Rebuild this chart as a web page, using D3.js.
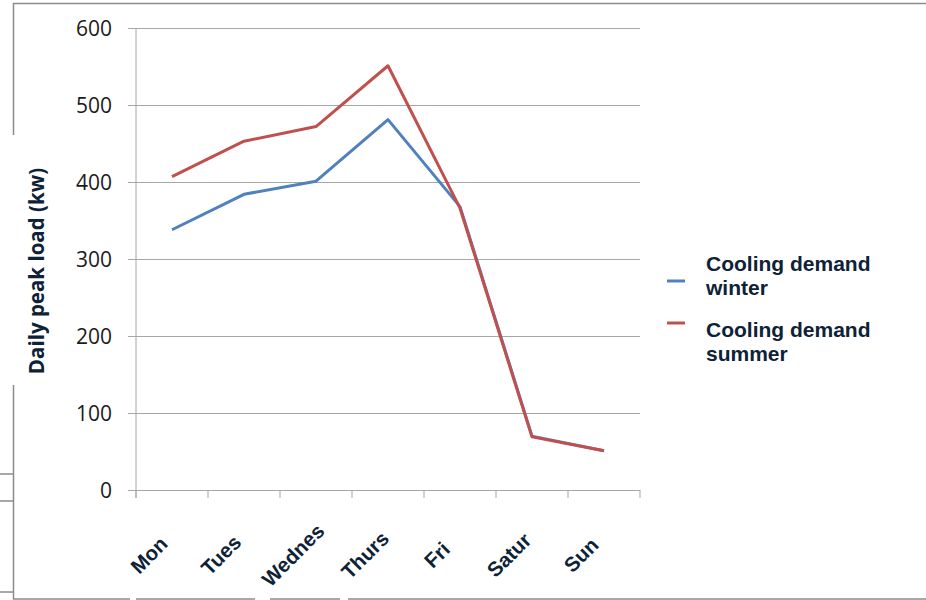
<!DOCTYPE html>
<html lang="en">
    <head>
        <meta charset="utf-8">
        <title>Daily peak load</title>
        <script src="https://d3js.org/d3.v7.min.js"></script>
        <style type="text/css">
            body { margin: 0; background: #fff; }
        </style>
    </head>
    <body>
        <script>
            // data
            var days = ["Mon", "Tues", "Wednes", "Thurs", "Fri", "Satur", "Sun"];
            var winter = [338, 384, 401, 481, 368, 70, 51];
            var summer = [407, 453, 472, 551, 366, 69, 51];
            var yTicks = [0, 100, 200, 300, 400, 500, 600];
            var seriesNames = ["Cooling demand winter", "Cooling demand summer"];
            var seriesColors = ["#4f81bd", "#c0504d"];

            // configuration
            var outerWidth = 926;
            var outerHeight = 600;
            var margin = { left: 136, top: 28, right: 286, bottom: 110 };
            var innerWidth = outerWidth - margin.left - margin.right;
            var innerHeight = outerHeight - margin.top - margin.bottom;
            var labelColor = "#0d2236";
            var gridColor = "#a6a6a6";

            var svg = d3.select("body")
                .append("svg")
                .attr("width", outerWidth)
                .attr("height", outerHeight);

            // frame remnants around the slide
            var frame = svg.append("g")
                .attr("stroke", "#8c8c8c")
                .attr("stroke-width", 1.5)
                .attr("fill", "none");
            frame.append("path").attr("d", "M13.5,135V3.5H926");
            frame.append("path").attr("d", "M13.5,385V599H130M136,599H255M270,599H340M348,599H926");
            frame.append("path").attr("d", "M0,474H13.5M0,501H13.5M0,592H13.5");

            var g = svg.append("g")
                .attr("transform", "translate(" + margin.left + "," + margin.top + ")");

            var xScale = d3.scaleBand().domain(days).range([0, innerWidth]).paddingInner(0).paddingOuter(0);
            var yScale = d3.scaleLinear().domain([0, 600]).range([innerHeight, 0]);

            // gridlines + y axis
            var yAxis = d3.axisLeft(yScale)
                .tickValues(yTicks)
                .tickSize(-innerWidth - 8)
                .tickPadding(16)
                .tickFormat(d3.format("d"));
            var yG = g.append("g")
                .attr("transform", "translate(" + (-8) + ",0)")
                .call(yAxis);
            yG.select(".domain").remove();
            yG.selectAll(".tick line").attr("stroke", gridColor).attr("x1", 0).attr("x2", innerWidth + 8);
            yG.selectAll(".tick text")
                .attr("x", -16)
                .attr("dy", "0.36em")
                .style("font-family", "'Open Sans', sans-serif")
                .style("font-size", "21px")
                .attr("fill", "#1a1a1a");

            // vertical axis line
            g.append("line")
                .attr("x1", 0).attr("x2", 0)
                .attr("y1", 0).attr("y2", innerHeight + 8)
                .attr("stroke", gridColor);

            // category boundary ticks
            var boundaries = days.map(function (d) { return xScale(d); }).concat([innerWidth]);
            g.selectAll(".xtick").data(boundaries).enter().append("line")
                .attr("class", "xtick")
                .attr("x1", function (d) { return d; })
                .attr("x2", function (d) { return d; })
                .attr("y1", innerHeight)
                .attr("y2", innerHeight + 8)
                .attr("stroke", gridColor);

            // category labels
            g.selectAll(".xlabel").data(days).enter().append("text")
                .attr("class", "xlabel")
                .attr("transform", function (d) {
                    var x = xScale(d) + xScale.bandwidth() / 2 - 23;
                    return "translate(" + x + "," + (innerHeight + 65) + ") rotate(-45)";
                })
                .attr("text-anchor", "middle")
                .attr("dy", "0.35em")
                .style("font-family", "'Liberation Sans', Arial, sans-serif")
                .style("font-weight", "bold")
                .style("font-size", "20.5px")
                .attr("fill", labelColor)
                .text(function (d) { return d; });

            // lines
            var line = d3.line()
                .x(function (d, i) { return xScale(days[i]) + xScale.bandwidth() / 2; })
                .y(function (d) { return yScale(d); });

            [winter, summer].forEach(function (series, i) {
                g.append("path")
                    .datum(series)
                    .attr("fill", "none")
                    .attr("stroke", seriesColors[i])
                    .attr("stroke-width", 3)
                    .attr("stroke-linejoin", "round")
                    .attr("d", line);
            });

            // y axis title
            svg.append("text")
                .attr("transform", "translate(44,271) rotate(-90)")
                .attr("text-anchor", "middle")
                .style("font-family", "'Open Sans', sans-serif")
                .style("font-weight", "bold")
                .style("font-size", "20.5px")
                .attr("fill", labelColor)
                .text("Daily peak load (kw)");

            // legend
            var legend = svg.append("g").attr("transform", "translate(667,0)");
            var markerY = [281, 323];
            var textY = [271, 337];
            seriesNames.forEach(function (name, i) {
                legend.append("line")
                    .attr("x1", 0).attr("x2", 18)
                    .attr("y1", markerY[i]).attr("y2", markerY[i])
                    .attr("stroke", seriesColors[i])
                    .attr("stroke-width", 3);
                var words = name.split(" ");
                var t = legend.append("text")
                    .attr("x", 39)
                    .attr("y", textY[i])
                    .style("font-family", "'Liberation Sans', Arial, sans-serif")
                    .style("font-weight", "bold")
                    .style("font-size", "21px")
                    .attr("fill", labelColor);
                t.append("tspan").attr("x", 39).text(words.slice(0, 2).join(" "));
                t.append("tspan").attr("x", 39).attr("dy", 24).text(words[2]);
            });
        </script>
    </body>
</html>
